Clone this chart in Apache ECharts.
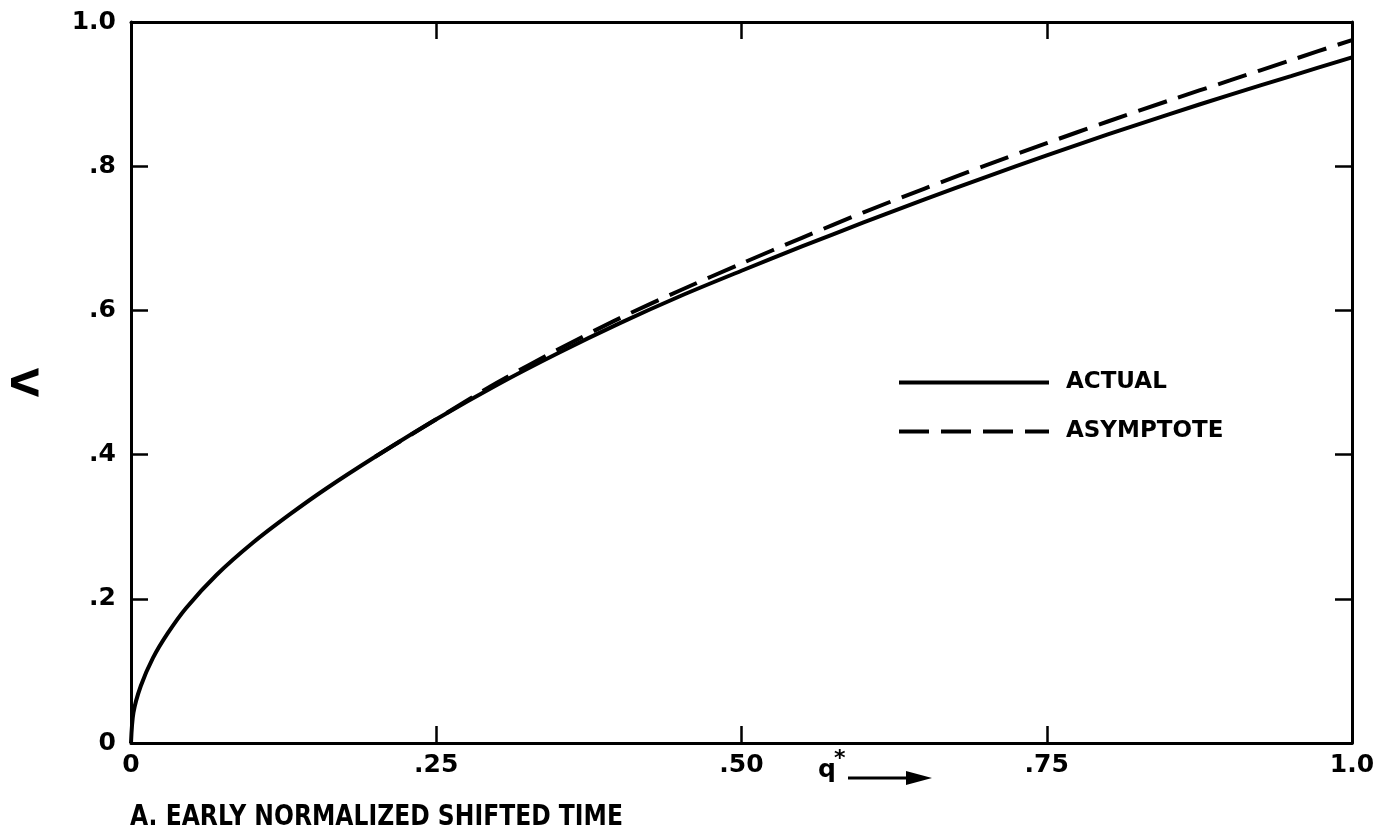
<!DOCTYPE html>
<html>
<head>
<meta charset="utf-8">
<title>Early normalized shifted time</title>
<script src="https://cdn.jsdelivr.net/npm/echarts@6/dist/echarts.min.js"></script>
<style>
  html, body { margin: 0; padding: 0; background: #fff; }
  #chart { width: 1386px; height: 836px; }
</style>
</head>
<body>
<div id="chart"></div>
<script>
  // values
  const actualQ = [0, 0.002, 0.008, 0.018, 0.03, 0.045, 0.07, 0.1, 0.13, 0.16, 0.2, 0.25, 0.3, 0.35, 0.4, 0.45, 0.5, 0.55, 0.6, 0.65, 0.7, 0.75, 0.8, 0.85, 0.9, 0.95, 1.0];
  const actualL = [0, 0.042, 0.079, 0.118, 0.152, 0.187, 0.233, 0.278, 0.317, 0.353, 0.397, 0.449, 0.497, 0.541, 0.582, 0.62, 0.655, 0.689, 0.722, 0.754, 0.785, 0.815, 0.844, 0.872, 0.899, 0.925, 0.951];
  const asymQ = [0.2, 0.25, 0.3, 0.35, 0.4, 0.45, 0.5, 0.55, 0.6, 0.65, 0.7, 0.75, 0.8, 0.85, 0.9, 0.95, 1.0];
  const asymL = [0.397, 0.449, 0.5, 0.546, 0.589, 0.628, 0.665, 0.701, 0.736, 0.769, 0.801, 0.832, 0.862, 0.891, 0.919, 0.947, 0.975];
  const xTickLabels = ['0', '.25', '.50', '.75', '1.0'];
  const yTickLabels = ['0', '.2', '.4', '.6', '.8', '1.0'];
  const seriesNames = ['ACTUAL', 'ASYMPTOTE'];

  const font = '"DejaVu Sans", sans-serif';
  const pair = (xs, ys) => xs.map((x, i) => [x, ys[i]]);

  let chart = echarts.init(document.getElementById('chart'), null, { renderer: 'canvas' });

  const baseX = {
    type: 'value', min: 0, max: 1, interval: 0.25,
    splitLine: { show: false },
    axisLine: { show: true, onZero: false, lineStyle: { color: '#000', width: 3 } },
    axisTick: { show: true, inside: true, length: 17, lineStyle: { color: '#000', width: 2.5 } }
  };
  const baseY = {
    type: 'value', min: 0, max: 1, interval: 0.2,
    splitLine: { show: false },
    axisLine: { show: true, onZero: false, lineStyle: { color: '#000', width: 3 } },
    axisTick: { show: true, inside: true, length: 17, lineStyle: { color: '#000', width: 2.5 } }
  };

  chart.setOption({
    backgroundColor: '#fff',
    animation: false,
    grid: { left: 131, right: 34, top: 22, bottom: 93 },
    legend: {
      orient: 'vertical',
      left: 892, top: 366,
      itemWidth: 150, itemHeight: 24, itemGap: 26,
      data: seriesNames,
      itemStyle: { opacity: 0 },
      lineStyle: { width: 4 },
      textStyle: { color: '#000', fontFamily: font, fontWeight: 'bold', fontSize: 23, padding: [0, 0, 0, 12] }
    },
    xAxis: [
      Object.assign({}, baseX, {
        position: 'bottom',
        axisLabel: {
          color: '#000', fontFamily: font, fontWeight: 'bold', fontSize: 25, margin: 10,
          formatter: (v) => xTickLabels[Math.round(v / 0.25)]
        }
      }),
      Object.assign({}, baseX, { position: 'top', axisLabel: { show: false } })
    ],
    yAxis: [
      Object.assign({}, baseY, {
        position: 'left',
        name: 'Λ', nameLocation: 'middle', nameRotate: 90, nameGap: 84,
        nameTextStyle: { color: '#000', fontFamily: font, fontWeight: 'bold', fontSize: 38 },
        axisLabel: {
          color: '#000', fontFamily: font, fontWeight: 'bold', fontSize: 25, margin: 15,
          formatter: (v) => yTickLabels[Math.round(v / 0.2)]
        }
      }),
      Object.assign({}, baseY, { position: 'right', axisLabel: { show: false } })
    ],
    series: [
      {
        name: seriesNames[0], type: 'line', smooth: 0.3, symbol: 'none',
        data: pair(actualQ, actualL),
        lineStyle: { color: '#000', width: 4 },
        itemStyle: { color: '#000' }
      },
      {
        name: seriesNames[1], type: 'line', smooth: 0.3, symbol: 'none',
        data: pair(asymQ, asymL),
        lineStyle: { color: '#000', width: 4, type: [30, 12] },
        itemStyle: { color: '#000' }
      }
    ],
    graphic: [
      // q* with arrow under the x axis
      { type: 'text', left: 818, top: 758, style: { text: 'q', fill: '#000', font: 'bold 25px "DejaVu Sans", sans-serif' } },
      { type: 'text', left: 834, top: 748, style: { text: '*', fill: '#000', font: 'bold 22px "DejaVu Sans", sans-serif' } },
      { type: 'line', shape: { x1: 848, y1: 778, x2: 910, y2: 778 }, style: { stroke: '#000', lineWidth: 3 } },
      { type: 'polygon', shape: { points: [[906, 771], [932, 778], [906, 785]] }, style: { fill: '#000' } },
      // caption
      { type: 'text', left: 130, top: 803, scaleX: 1.02, scaleY: 1.25, style: { text: 'A. EARLY NORMALIZED SHIFTED TIME', fill: '#000', font: 'bold 23px "DejaVu Sans", sans-serif' } }
    ]
  });
</script>
</body>
</html>
